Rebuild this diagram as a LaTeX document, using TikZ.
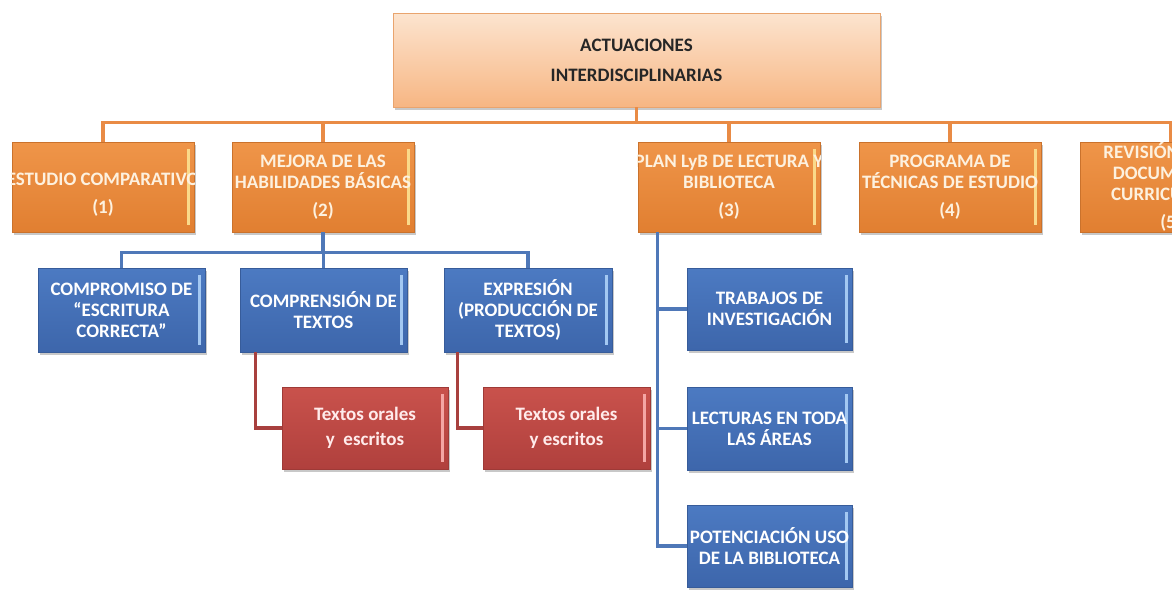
\documentclass[tikz,border=0pt]{standalone}
\usepackage{fontspec}
\setmainfont{Carlito}
\usetikzlibrary{shadows}
\definecolor{otop}{HTML}{EF9549}
\definecolor{obot}{HTML}{E17F31}
\definecolor{ostripe}{HTML}{FAD98A}
\definecolor{otxt}{HTML}{FDF1DF}
\definecolor{ttop}{HTML}{FCE4CF}
\definecolor{tbot}{HTML}{F7B683}
\definecolor{tdraw}{HTML}{E9A46E}
\definecolor{btop}{HTML}{4C7AC2}
\definecolor{bbot}{HTML}{3D66AB}
\definecolor{bstripe}{HTML}{A3C8F2}
\definecolor{rtop}{HTML}{C9524C}
\definecolor{rbot}{HTML}{B0403D}
\definecolor{rstripe}{HTML}{F4A6A4}
\definecolor{oline}{HTML}{E98B45}
\definecolor{bline}{HTML}{4F78B8}
\definecolor{rline}{HTML}{A8403E}
\newcommand\mkbox[7]{%
  \node[#1, minimum width=#4pt, minimum height=#5pt] (#2) at (#3) {};
  \fill[#1stripe] ([xshift=-7.5pt,yshift=-7pt]#2.north east) rectangle ([xshift=-4.5pt,yshift=7pt]#2.south east);
  \begin{scope}
    \clip (#2.south west) rectangle (#2.north east);
    \node[#1txt, yshift=#6pt] (#2t) at (#2.center) {#7};
  \end{scope}}
\begin{document}
\begin{tikzpicture}[x=1pt,y=-1pt,
  boxbase/.style={rectangle, inner sep=0pt, line width=0.6pt,
    drop shadow={shadow xshift=2pt, shadow yshift=-3pt, opacity=0.3, fill=black!70}},
  txtbase/.style={inner sep=0pt, align=center, font=\fontsize{19}{21}\selectfont\bfseries},
  topbox/.style={boxbase, top color=ttop, bottom color=tbot, draw=tdraw, text=black!85, txtbase},
  orbox/.style={boxbase, top color=otop, bottom color=obot, draw=obot!90!black},
  orboxstripe/.style={fill=ostripe},
  orboxtxt/.style={txtbase, text=otxt},
  blbox/.style={boxbase, top color=btop, bottom color=bbot, draw=bbot!90!black},
  blboxstripe/.style={fill=bstripe},
  blboxtxt/.style={txtbase, text=white},
  rdbox/.style={boxbase, top color=rtop, bottom color=rbot, draw=rbot!90!black},
  rdboxstripe/.style={fill=rstripe},
  rdboxtxt/.style={txtbase, text=white!92!red},
  ocon/.style={draw=oline, line width=3.5pt},
  bcon/.style={draw=bline, line width=3.5pt},
  rcon/.style={draw=rline, line width=3.5pt}]
\useasboundingbox (0,0) rectangle (1172,590);
\fill[white] (0,0) rectangle (1172,590);
\clip (0,0) rectangle (1172,590);

% top
\node[topbox, minimum width=487pt, minimum height=94pt] (top) at (636.5,60) {ACTUACIONES\\[9pt]INTERDISCIPLINARIAS};

% orange row
\mkbox{orbox}{n1}{103,187}{182}{90}{-8}{ESTUDIO COMPARATIVO\\[7pt](1)}
\mkbox{orbox}{n2}{323,187}{182}{90}{0}{MEJORA DE LAS\\HABILIDADES BÁSICAS\\[7pt](2)}
\mkbox{orbox}{n3}{729,187}{182}{90}{0}{PLAN LyB DE LECTURA Y\\BIBLIOTECA\\[7pt](3)}
\mkbox{orbox}{n4}{950,187}{182}{90}{0}{PROGRAMA DE\\TÉCNICAS DE ESTUDIO\\[7pt](4)}
\mkbox{orbox}{n5}{1171,187}{182}{90}{0}{REVISIÓN DE LOS\\DOCUMENTOS\\CURRICULARES\\[7pt](5)}

% blue row
\mkbox{blbox}{b1}{121.5,310}{167}{84}{0}{COMPROMISO DE\\“ESCRITURA\\CORRECTA”}
\mkbox{blbox}{b2}{323.5,310}{167}{84}{0}{COMPRENSIÓN DE\\TEXTOS}
\mkbox{blbox}{b3}{528,310}{168}{84}{0}{EXPRESIÓN\\(PRODUCCIÓN DE\\TEXTOS)}

% right column
\mkbox{blbox}{t1}{769.5,309}{165}{82}{0}{TRABAJOS DE\\INVESTIGACIÓN}
\mkbox{blbox}{t2}{769.5,428.5}{165}{83}{0}{LECTURAS EN TODA\\LAS ÁREAS}
\mkbox{blbox}{t3}{769.5,546}{165}{82}{0}{POTENCIACIÓN USO\\DE LA BIBLIOTECA}

% red
\mkbox{rdbox}{r1}{365,428}{166}{82}{0}{Textos orales\\[4pt]y\ \ escritos}
\mkbox{rdbox}{r2}{566.5,428}{167}{82}{0}{Textos orales\\[4pt]y escritos}

% orange connectors
\foreach \c in {n1,n2,n3,n4,n5}
  \draw[ocon] (top.south) -- ++(0,15) -| (\c.north);

% blue connectors
\foreach \c in {b1,b2,b3}
  \draw[bcon] (n2.south) -- ++(0,20) -| (\c.north);
\foreach \c in {t1,t2,t3}
  \draw[bcon] ([xshift=20pt]n3.south west) |- (\c.west);

% red connectors
\draw[rcon] ([xshift=16pt]b2.south west) |- (r1.west);
\draw[rcon] ([xshift=14pt]b3.south west) |- (r2.west);
\end{tikzpicture}
\end{document}
